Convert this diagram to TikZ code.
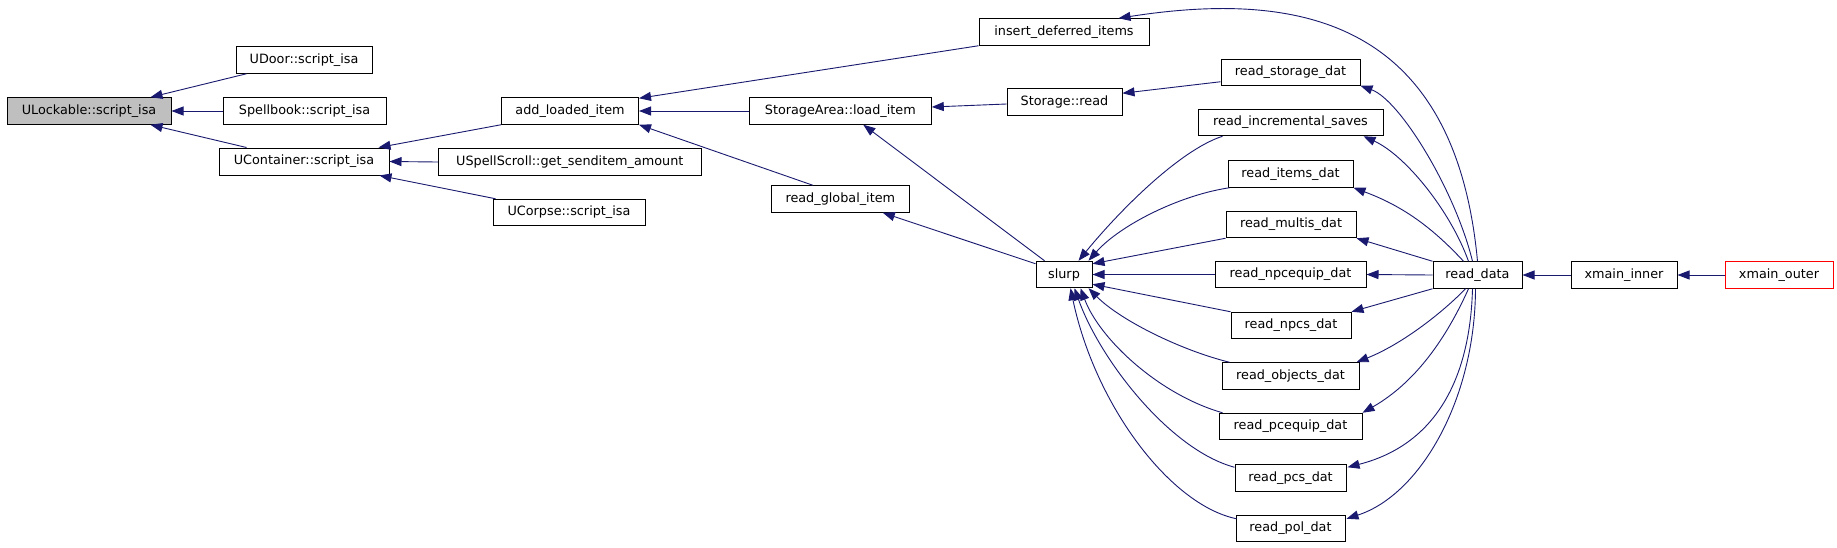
\documentclass[tikz,border=0pt]{standalone}
\usepackage{fontspec}
\setmainfont{DejaVu Sans}
\usetikzlibrary{arrows.meta,calc}
\definecolor{edgec}{HTML}{191970}
\definecolor{nodegray}{HTML}{BFBFBF}
\begin{document}
\begin{tikzpicture}[x=1pt,y=-1pt,
  fn/.style={draw=black, fill=white, line width=1pt, inner sep=0pt,
    minimum height=26.5pt, font=\fontsize{12.8}{15}\selectfont},
  ed/.style={draw=edgec, line width=0.9pt, -{Triangle[length=12pt,width=9pt]}},
]
\useasboundingbox (0,0) rectangle (1837,547);
\fill[white] (0,0) rectangle (1837,547);

\node[fn, fill=nodegray, minimum width=164pt] (uLock) at (89,111) {ULockable::script\_isa};
\node[fn, minimum width=136pt] (uDoor) at (304,60) {UDoor::script\_isa};
\node[fn, minimum width=163pt] (spell) at (304.5,111) {Spellbook::script\_isa};
\node[fn, minimum width=170pt, minimum height=27pt] (ucont) at (304,161.5) {UContainer::script\_isa};
\node[fn, minimum width=137pt] (addl) at (570,111) {add\_loaded\_item};
\node[fn, minimum width=263pt] (uspell) at (569.8,162) {USpellScroll::get\_senditem\_amount};
\node[fn, minimum width=152pt] (ucorpse) at (569,212.5) {UCorpse::script\_isa};
\node[fn, minimum width=182pt] (storA) at (840.3,111) {StorageArea::load\_item};
\node[fn, minimum width=138pt] (rglob) at (840.3,199) {read\_global\_item};
\node[fn, minimum width=170pt] (insdef) at (1064,32) {insert\_deferred\_items};
\node[fn, minimum width=115pt] (storR) at (1064.5,102) {Storage::read};
\node[fn, minimum width=56pt] (slurp) at (1064,274.5) {slurp};
\node[fn, minimum width=139pt, minimum height=25.5pt] (rstor) at (1290.5,72.5) {read\_storage\_dat};
\node[fn, minimum width=185pt] (rinc) at (1290.5,122.5) {read\_incremental\_saves};
\node[fn, minimum width=125pt] (ritems) at (1290.5,174) {read\_items\_dat};
\node[fn, minimum width=130pt] (rmult) at (1291,224.5) {read\_multis\_dat};
\node[fn, minimum width=151pt] (rnpceq) at (1290.5,274.5) {read\_npcequip\_dat};
\node[fn, minimum width=120pt] (rnpcs) at (1291,325.5) {read\_npcs\_dat};
\node[fn, minimum width=137pt] (robj) at (1290.5,376) {read\_objects\_dat};
\node[fn, minimum width=143pt] (rpceq) at (1290.5,426.5) {read\_pcequip\_dat};
\node[fn, minimum width=111pt] (rpcs) at (1290.5,478) {read\_pcs\_dat};
\node[fn, minimum width=109pt] (rpol) at (1290.5,528.5) {read\_pol\_dat};
\node[fn, minimum width=89pt] (rdata) at (1477.5,275) {read\_data};
\node[fn, minimum width=106pt] (xin) at (1624,275) {xmain\_inner};
\node[fn, draw=red, minimum width=108pt] (xout) at (1779,275) {xmain\_outer};

% left part
\draw[ed] ($(uDoor.south west)+(11,0)$) -- ($(uLock.north east)+(-21,0)$);
\draw[ed] (spell.west) -- (uLock.east);
\draw[ed] ($(ucont.north west)+(28,0)$) -- ($(uLock.south east)+(-21,0)$);
\draw[ed] (addl.south west) -- ($(ucont.north east)+(-11,0)$);
\draw[ed] (uspell.west) -- (ucont.east);
\draw[ed] ($(ucorpse.north west)+(3,0)$) -- ($(ucont.south east)+(-10,0)$);
\draw[ed] (insdef.south west) -- ($(addl.north east)+(0,1)$);
\draw[ed] (storA.west) -- (addl.east);
\draw[ed] ($(rglob.north west)+(42,0)$) -- (addl.south east);
\draw[ed] ($(storR.west)+(0,2)$) -- ($(storA.east)+(0,-4)$);
\draw[ed] ($(slurp.north west)+(9,0)$) -- ($(storA.south)+(23,0)$);
\draw[ed] ($(slurp.north west)+(0,3)$) -- ($(rglob.south east)+(-27,0)$);
\draw[ed] ($(rstor.south west)+(0,-4)$) -- ($(storR.north east)+(0,5)$);

% read_data callers
\draw[ed] (rdata.north) .. controls (1455,20) and (1300,-10) .. ($(insdef.north east)+(-31,0)$);
\draw[ed] ($(rdata.north)+(-5,0)$) .. controls (1455,190) and (1400,100) .. (rstor.south east);
\draw[ed] ($(rdata.north)+(-9,0)$) .. controls (1450,210) and (1405,155) .. ($(rinc.south east)+(-20,0)$);
\draw[ed] ($(rdata.north)+(-14,0)$) .. controls (1430,225) and (1400,205) .. (ritems.south east);
\draw[ed] (rdata.north west) -- (rmult.south east);
\draw[ed] (rdata.west) -- (rnpceq.east);
\draw[ed] (rdata.south west) -- (rnpcs.north east);
\draw[ed] ($(rdata.south)+(-12,0)$) .. controls (1440,315) and (1400,345) .. ($(robj.north east)+(-3,0)$);
\draw[ed] ($(rdata.south)+(-9,0)$) .. controls (1450,330) and (1420,380) .. (rpceq.north east);
\draw[ed] ($(rdata.south)+(-5,0)$) .. controls (1470,380) and (1435,445) .. ($(rpcs.north east)+(1,3)$);
\draw[ed] ($(rdata.south)+(-2,0)$) .. controls (1475,400) and (1420,495) .. ($(rpol.north east)+(1,4)$);

% slurp callers
\draw[ed] ($(rinc.south west)+(25,0)$) .. controls (1180,150) and (1120,210) .. ($(slurp.north east)+(-14,0)$);
\draw[ed] ($(ritems.south west)+(2,0)$) .. controls (1180,195) and (1120,225) .. ($(slurp.north east)+(-4,0)$);
\draw[ed] (rmult.south west) -- ($(slurp.north east)+(0,3)$);
\draw[ed] (rnpceq.west) -- (slurp.east);
\draw[ed] (rnpcs.north west) -- ($(slurp.south east)+(0,-4)$);
\draw[ed] ($(robj.north west)+(8,0)$) .. controls (1180,350) and (1120,320) .. ($(slurp.south east)+(-4,0)$);
\draw[ed] ($(rpceq.north west)+(4,0)$) .. controls (1160,395) and (1100,340) .. ($(slurp.south east)+(-12,0)$);
\draw[ed] ($(rpcs.north west)+(0,3)$) .. controls (1170,450) and (1100,360) .. ($(slurp.south east)+(-18,0)$);
\draw[ed] ($(rpol.north west)+(1,4)$) .. controls (1170,505) and (1095,405) .. ($(slurp.south east)+(-22,0)$);

% main
\draw[ed] (xin.west) -- (rdata.east);
\draw[ed] (xout.west) -- (xin.east);
\end{tikzpicture}
\end{document}
